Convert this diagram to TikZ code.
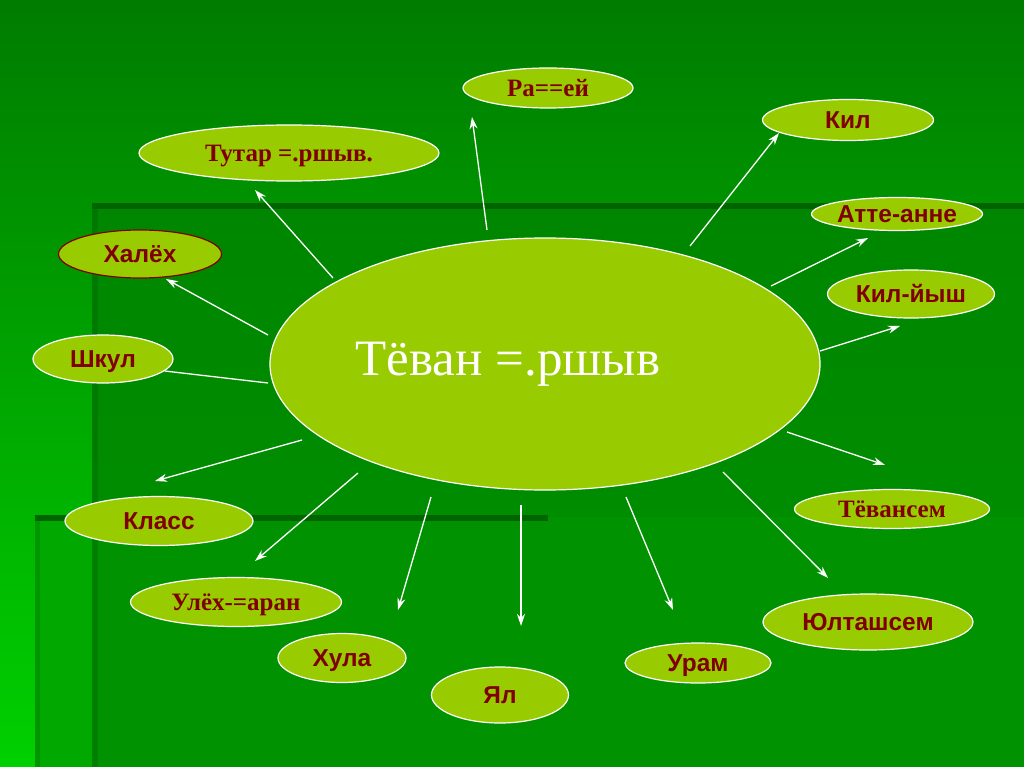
\documentclass[tikz,border=0pt]{standalone}
\usepackage{fontspec}
\setmainfont{Liberation Serif}
\newfontfamily\arialfont{Liberation Sans}
\usetikzlibrary{shapes.geometric,arrows.meta}
\definecolor{leaf}{RGB}{153,204,0}
\definecolor{wine}{RGB}{128,0,0}
\definecolor{bgtop}{RGB}{0,124,0}
\definecolor{bgbot}{RGB}{0,208,0}
\definecolor{panel}{RGB}{0,134,0}
\definecolor{panellow}{RGB}{0,146,0}
\definecolor{panelside}{RGB}{0,168,0}
\definecolor{rim}{RGB}{0,100,0}
\begin{document}
\begin{tikzpicture}[x=1pt,y=-1pt,
  bubble/.style={ellipse, draw=white, line width=1.2pt, fill=leaf, inner sep=0pt,
    text=wine, text height=17.5pt, text depth=0pt,
    font=\arialfont\bfseries\fontsize{24.5}{28}\selectfont},
  serifbubble/.style={bubble, text height=16.5pt,
    font=\bfseries\fontsize{25}{28}\selectfont},
  link/.style={draw=white, line width=1.3pt, -{Stealth[length=12pt,width=8pt]}},
  plainlink/.style={draw=white, line width=1.3pt}]
\useasboundingbox (0,0) rectangle (1024,767);
% slide background
\fill[top color=bgtop, bottom color=bgbot] (0,0) rectangle (1024,767);
\fill[top color=panel, bottom color=panellow] (92,205) rectangle (1024,767);
\fill[panelside] (35,517) rectangle (92,767);
\fill[panellow] (92,517) rectangle (1024,767);
\fill[rim] (92,203) rectangle (1024,209);
\fill[rim, opacity=0.4] (92,205) rectangle (98,767);
\fill[rim] (35,515) rectangle (548,521);
\fill[rim, opacity=0.25] (35,517) rectangle (40,767);

\node[bubble, minimum width=550pt, minimum height=252pt] (teban) at (545,364) {};
\node[text=white, anchor=base, font=\fontsize{51}{60}\selectfont] (tebantxt) at (508,375) {Тёван =.ршыв};

\node[serifbubble, minimum width=170pt, minimum height=40pt] (rasei) at (548,88) {Ра==ей};
\node[serifbubble, minimum width=300pt, minimum height=56pt] (tutar) at (289,153) {Тутар =.ршыв.};
\node[bubble, draw=wine, minimum width=163pt, minimum height=48pt] (halekh) at (140,254) {Халёх};
\node[bubble, minimum width=140pt, minimum height=48pt] (shkul) at (103,359) {Шкул};
\node[bubble, minimum width=171pt, minimum height=41pt] (kil) at (848,120) {Кил};
\node[bubble, minimum width=171pt, minimum height=33pt] (atte) at (897,214) {Атте-анне};
\node[bubble, minimum width=167pt, minimum height=48pt] (kilysh) at (911,294) {Кил-йыш};
\node[serifbubble, minimum width=195pt, minimum height=39pt] (tevansem) at (892,509) {Тёвансем};
\node[bubble, minimum width=210pt, minimum height=56pt] (yultash) at (868,622) {Юлташсем};
\node[bubble, minimum width=146pt, minimum height=40pt] (uram) at (698,663) {Урам};
\node[bubble, minimum width=137pt, minimum height=56pt] (yal) at (500,695) {Ял};
\node[bubble, minimum width=128pt, minimum height=49pt] (khula) at (342,658) {Хула};
\node[serifbubble, minimum width=211pt, minimum height=49pt] (ulekh) at (236,602) {Улёх-=аран};
\node[bubble, minimum width=188pt, minimum height=49pt] (klass) at (159,521) {Класс};

% arrow ends
\coordinate (s-rasei) at (487,230);   \coordinate (e-rasei) at (472,117);
\coordinate (s-tutar) at (333,278);   \coordinate (e-tutar) at (255,190);
\coordinate (s-halekh) at (268,335);  \coordinate (e-halekh) at (166,279);
\coordinate (s-shkul) at (268,383);
\coordinate (s-kil) at (690,246);     \coordinate (e-kil) at (779,133);
\coordinate (s-atte) at (771,286);    \coordinate (e-atte) at (868,238);
\coordinate (s-kilysh) at (820,351);  \coordinate (e-kilysh) at (900,326);
\coordinate (s-tevansem) at (787,432); \coordinate (e-tevansem) at (885,465);
\coordinate (s-yultash) at (723,472); \coordinate (e-yultash) at (828,578);
\coordinate (s-uram) at (626,497);    \coordinate (e-uram) at (673,610);
\coordinate (s-yal) at (521,505);     \coordinate (e-yal) at (521,626);
\coordinate (s-khula) at (431,497);   \coordinate (e-khula) at (398,610);
\coordinate (s-ulekh) at (358,473);   \coordinate (e-ulekh) at (255,561);
\coordinate (s-klass) at (302,440);   \coordinate (e-klass) at (155,481);

\foreach \n in {rasei,tutar,halekh,kil,atte,kilysh,tevansem,yultash,uram,yal,khula,ulekh,klass}
  \draw[link] (s-\n) -- (e-\n);
\draw[plainlink] (s-shkul) -- (shkul.-11);
\end{tikzpicture}
\end{document}
